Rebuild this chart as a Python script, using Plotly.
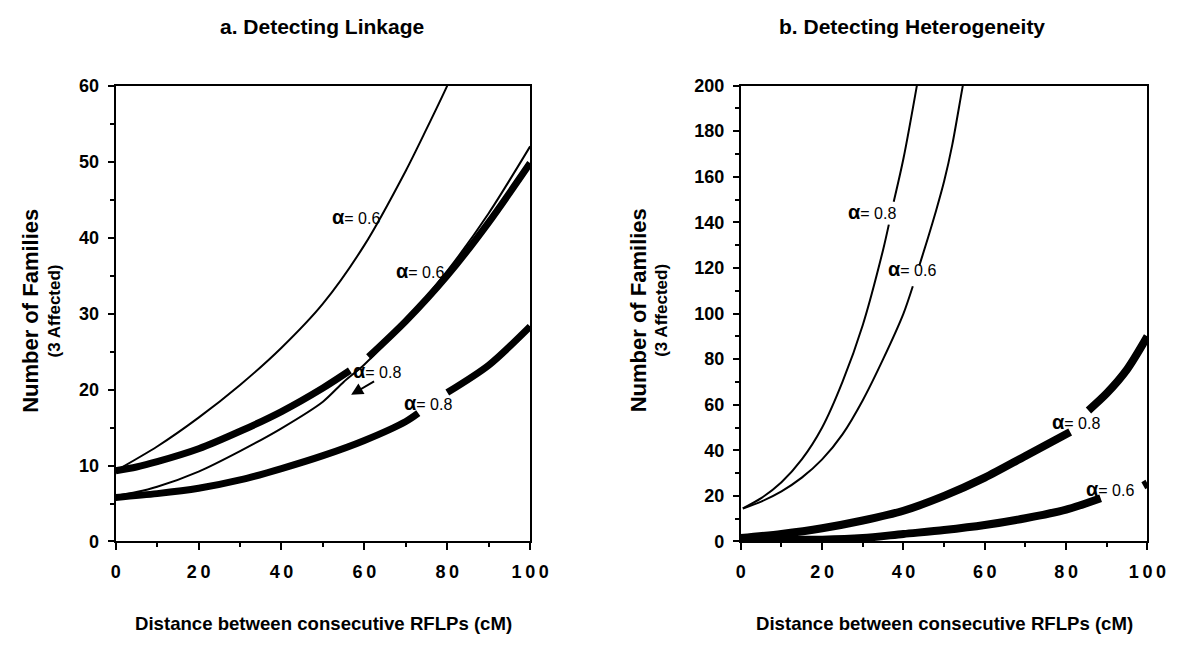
import plotly.graph_objects as go

# ---------------- data: panel a (Detecting Linkage) ----------------
a_x_thin06 = [0, 10, 20, 30, 40, 50, 60, 70, 75, 80, 82]
a_y_thin06 = [9.3, 12.5, 16.3, 20.6, 25.5, 31.3, 39.0, 48.8, 54.3, 60.0, 62.5]
a_x_thick06 = [0, 5, 10, 20, 30, 40, 50, 56.5, None, 61, 70, 80, 90, 100]
a_y_thick06 = [9.3, 9.8, 10.5, 12.2, 14.5, 17.1, 20.2, 22.5, None, 24.3, 29.0, 35.0, 42.0, 49.8]
a_x_thin08 = [0, 5, 10, 20, 30, 40, 50, 55, 60, 70, 80, 90, 100]
a_y_thin08 = [6.0, 6.5, 7.2, 9.2, 11.9, 14.9, 18.4, 21.0, 23.3, 29.0, 35.6, 43.2, 52.0]
a_x_thick08 = [0, 10, 20, 30, 40, 50, 60, 70, 73, None, 80, 90, 100]
a_y_thick08 = [5.8, 6.3, 7.0, 8.1, 9.6, 11.3, 13.3, 15.8, 16.9, None, 19.6, 23.2, 28.3]

a_lab_x = [58, 73.4, 63, 75.4]
a_lab_y = [42.7, 35.6, 22.5, 18.2]
a_lab_t = ["0.6", "0.6", "0.8", "0.8"]
a_arrow = [62.7, 21.2, 56.8, 19.3]  # tail x, tail y, head x, head y

# ---------------- data: panel b (Detecting Heterogeneity) ----------------
b_x_thin08 = [0.5, 5, 10, 15, 20, 25, 30, 35, 36.4, None, 37.6, 40, 43.3, 45]
b_y_thin08 = [14.5, 19, 26, 36, 50, 70, 95, 128, 139, None, 149, 168, 200, 218]
b_x_thin06 = [0.5, 5, 10, 15, 20, 25, 30, 35, 40, 42.3, None, 43.9, 46, 48, 50, 52, 54.6, 56]
b_y_thin06 = [14.5, 17.5, 22, 28, 36, 47, 62, 80, 100, 112, None, 121, 133, 145, 158, 174, 200, 213]
b_x_thick08 = [0, 10, 20, 30, 40, 50, 60, 70, 81, None, 85.5, 90, 95, 100]
b_y_thick08 = [1.5, 3.3, 5.8, 9.2, 13.5, 20, 28, 37.5, 48, None, 57.5, 65, 75.5, 90]
b_x_thick06 = [0, 10, 20, 30, 40, 50, 60, 70, 80, 88.5, None, 99, 100]
b_y_thick06 = [0.8, 0.8, 0.8, 1.5, 3.3, 5.0, 7.2, 10.2, 14, 19, None, 24.5, 25.5]

b_lab_x = [32.2, 42, 82.5, 90.7]
b_lab_y = [144.5, 119.5, 52.6, 22.9]
b_lab_t = ["0.8", "0.6", "0.8", "0.6"]

x_ticks = [0, 20, 40, 60, 80, 100]
x_ticktext = ["0", "2\u20090", "4\u20090", "6\u20090", "8\u20090", "1\u20090\u20090"]

FONT = "Liberation Sans, Arial, Helvetica, sans-serif"
THIN = 2
THICK_A = 7
THICK_B = 8

fig = go.Figure()


def add_line(x, y, w, xa, ya):
    fig.add_trace(go.Scatter(x=x, y=y, mode="lines", xaxis=xa, yaxis=ya,
                             line=dict(color="black", width=w, shape="spline", smoothing=0.8),
                             connectgaps=False, showlegend=False, hoverinfo="skip"))


add_line(a_x_thin06, a_y_thin06, THIN, "x", "y")
add_line(a_x_thin08, a_y_thin08, THIN, "x", "y")
add_line(a_x_thick06, a_y_thick06, THICK_A, "x", "y")
add_line(a_x_thick08, a_y_thick08, THICK_A, "x", "y")

add_line(b_x_thin08, b_y_thin08, THIN, "x2", "y2")
add_line(b_x_thin06, b_y_thin06, THIN, "x2", "y2")
add_line(b_x_thick08, b_y_thick08, THICK_B, "x2", "y2")
add_line(b_x_thick06, b_y_thick06, THICK_B, "x2", "y2")

annotations = []


def alpha_label(x, y, t, xr, yr):
    annotations.append(dict(
        x=x, y=y, xref=xr, yref=yr, showarrow=False,
        text="<b><span style='font-size:20px'>\u03b1</span></b>= " + t,
        font=dict(family=FONT, size=16, color="black"),
        xanchor="center", yanchor="middle"))


for x, y, t in zip(a_lab_x, a_lab_y, a_lab_t):
    alpha_label(x, y, t, "x", "y")
for x, y, t in zip(b_lab_x, b_lab_y, b_lab_t):
    alpha_label(x, y, t, "x2", "y2")

# pointer arrow in panel a
annotations.append(dict(
    x=a_arrow[2], y=a_arrow[3], ax=a_arrow[0], ay=a_arrow[1],
    xref="x", yref="y", axref="x", ayref="y", text="", showarrow=True,
    arrowhead=2, arrowsize=1.2, arrowwidth=2, arrowcolor="black"))

# titles
for txt, xc in [("a. Detecting Linkage", 0.2725), ("b. Detecting Heterogeneity", 0.7795)]:
    annotations.append(dict(x=xc, y=1 - 17 / 645, xref="paper", yref="paper", showarrow=False,
                            text="<b>" + txt + "</b>", font=dict(family=FONT, size=21, color="black"),
                            xanchor="center", yanchor="middle"))
# x axis titles
for xc in [0.2735, 0.8075]:
    annotations.append(dict(x=xc, y=1 - 633 / 645, xref="paper", yref="paper", showarrow=False,
                            text="<b>Distance between consecutive RFLPs (cM)</b>",
                            font=dict(family=FONT, size=18.6, color="black"),
                            xanchor="center", yanchor="middle"))
# y axis titles
for x1, x2 in [(26, 50), (646, 670)]:
    annotations.append(dict(x=x1 / 1187, y=1 - 310 / 645, xref="paper", yref="paper", showarrow=False,
                            text="<b>Number of Families</b>", textangle=-90,
                            font=dict(family=FONT, size=22, color="black"),
                            xanchor="center", yanchor="middle"))
    annotations.append(dict(x=x2 / 1187, y=1 - 310 / 645, xref="paper", yref="paper", showarrow=False,
                            text="<b>(3 Affected)</b>", textangle=-90,
                            font=dict(family=FONT, size=17, color="black"),
                            xanchor="center", yanchor="middle"))

ydom = [1 - 548.5 / 645, 1 - 78 / 645]


def xaxis_cfg(dom):
    return dict(domain=dom, range=[0, 100], tickmode="array", tickvals=x_ticks, ticktext=x_ticktext,
                ticks="outside", ticklen=7, tickwidth=2, tickcolor="black",
                minor=dict(dtick=10, tick0=0, ticks="outside", ticklen=4, tickwidth=1.5, tickcolor="black",
                           showgrid=False),
                tickfont=dict(family=FONT, size=18, color="black", weight="bold"),
                ticklabelstandoff=6,
                showline=True, linewidth=2, linecolor="black", mirror=True,
                showgrid=False, zeroline=False, fixedrange=True)


def yaxis_cfg(rng, dt, mdt, anchor):
    return dict(domain=ydom, range=rng, dtick=dt, tick0=0, anchor=anchor,
                ticks="outside", ticklen=6, tickwidth=2, tickcolor="black",
                minor=dict(dtick=mdt, tick0=0, ticks="outside", ticklen=4, tickwidth=1.5, tickcolor="black",
                           showgrid=False),
                tickfont=dict(family=FONT, size=18, color="black", weight="bold"),
                ticklabelstandoff=5,
                showline=True, linewidth=2, linecolor="black", mirror=True,
                showgrid=False, zeroline=False, fixedrange=True)


fig.update_layout(
    width=1187, height=645,
    margin=dict(l=0, r=0, t=0, b=0),
    paper_bgcolor="white", plot_bgcolor="white",
    xaxis=dict(xaxis_cfg([113 / 1187, 536 / 1187]), anchor="y"),
    yaxis=yaxis_cfg([0, 60], 10, 5, "x"),
    xaxis2=dict(xaxis_cfg([751 / 1187, 1166 / 1187]), anchor="y2"),
    yaxis2=yaxis_cfg([0, 200], 20, 10, "x2"),
    annotations=annotations,
    showlegend=False,
)

fig.write_html("out.html")
